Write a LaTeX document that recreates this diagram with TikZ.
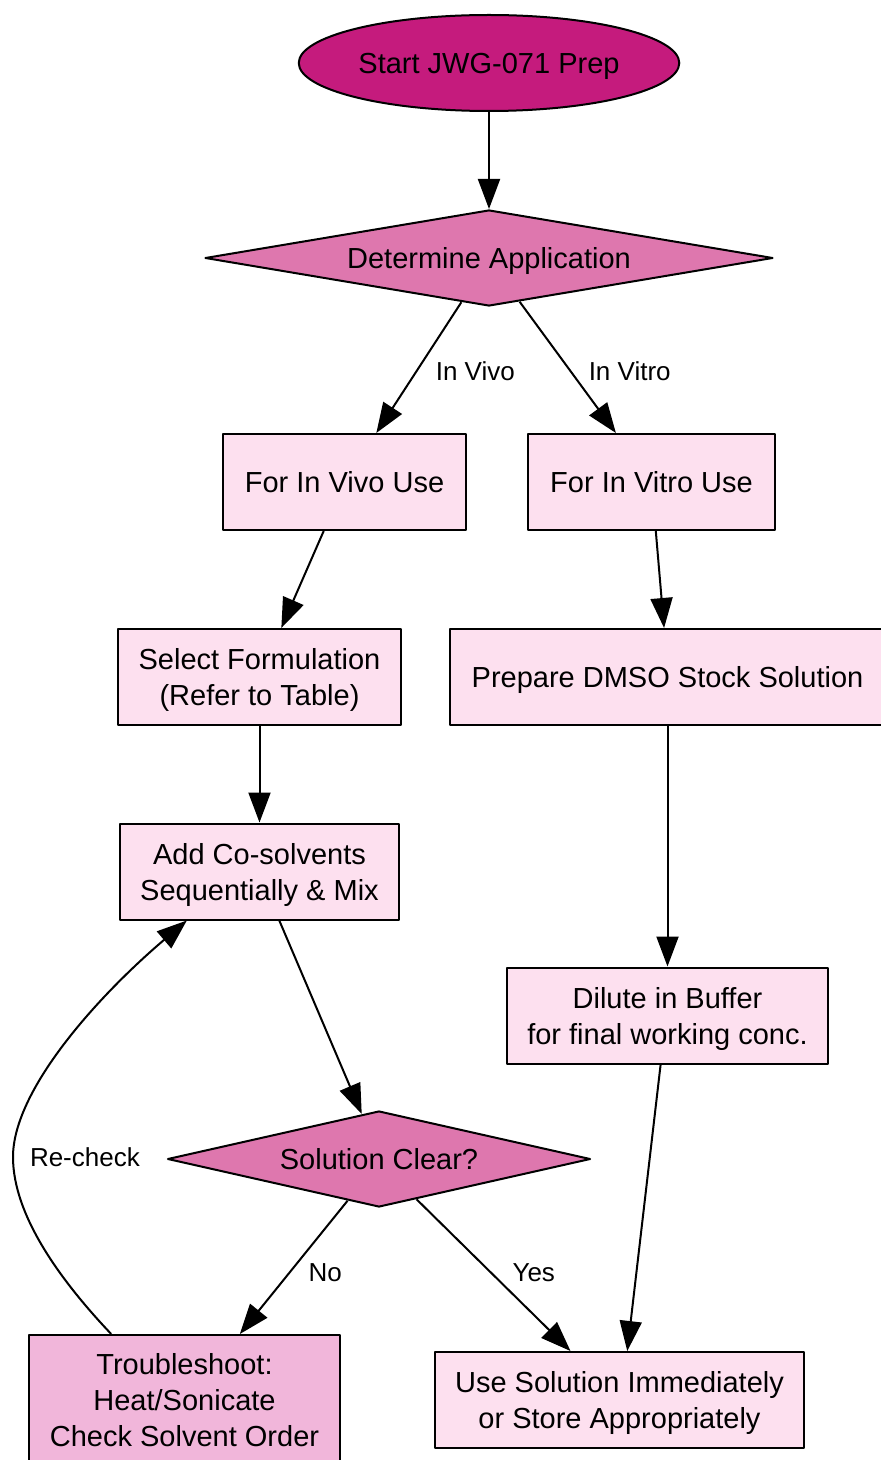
\documentclass[tikz,border=0pt]{standalone}
\usepackage{fontspec}
\setmainfont{Liberation Sans}
\usetikzlibrary{shapes.geometric,arrows.meta}
\definecolor{startc}{HTML}{C51B7D}
\definecolor{decidec}{HTML}{DE77AE}
\definecolor{boxc}{HTML}{FDE0EF}
\definecolor{fixc}{HTML}{F1B6DA}
\tikzset{
	box/.style={draw,fill=boxc,rectangle,minimum height=48pt,align=center,inner sep=2pt,text depth=0pt},
	decide/.style={draw,fill=decidec,diamond,inner sep=0pt,minimum height=48pt,text depth=0pt},
	lbl/.style={font=\fontsize{13}{15}\selectfont,inner sep=2pt},
}
\begin{document}
\begin{tikzpicture}[x=0.5pt,y=-0.5pt,line width=1pt,line join=round,>={Triangle[length=15pt,width=11pt]},font=\fontsize{14.5}{18}\selectfont]
			\useasboundingbox (0,0) rectangle (881,1460);
			\node[draw,fill=startc,ellipse,minimum width=190pt,minimum height=48pt,inner sep=2pt,text depth=0pt] (start) at (489,63) {Start JWG-071 Prep};
			\node[decide,aspect=5.9,minimum width=284pt] (app) at (489,258) {Determine Application};
			\node[box,minimum width=121.5pt] (invivo) at (344.5,482) {For In Vivo Use};
			\node[box,minimum width=123.5pt] (invitro) at (651.5,482) {For In Vitro Use};
			\node[box,minimum width=141.5pt] (formul) at (259.5,677) {Select Formulation\\(Refer to Table)};
			\node[box,minimum width=217.5pt] (dmso) at (667.5,677) {Prepare DMSO Stock Solution};
			\node[box,minimum width=139.5pt] (cosolv) at (259.5,871.5) {Add Co-solvents\\Sequentially \& Mix};
			\node[box,minimum width=160.5pt] (dilute) at (667.5,1015.5) {Dilute in Buffer\\for final working conc.};
			\node[decide,aspect=4.4,minimum width=211.5pt] (clear) at (379,1159) {Solution Clear?};
			\node[box,fill=fixc,minimum width=155.5pt,minimum height=65pt] (fix) at (184.5,1400) {Troubleshoot:\\Heat/Sonicate\\Check Solvent Order};
			\node[box,minimum width=184.5pt] (use) at (619.5,1400) {Use Solution Immediately\\or Store Appropriately};
			\foreach \a/\b in {start.south/app.north,invivo.247/formul.66,invitro.275/dmso.94,formul.south/cosolv.north,dmso.south/dilute.north,cosolv.292/clear.111,dilute.262/use.81}
			{
				\draw[->] (\a) -- (\b);
			}
			\draw[->] (app.238) -- node[lbl,right=6pt,yshift=-2pt] {In Vivo} (invivo.57);
			\draw[->] (app.305) -- node[lbl,right=8pt,yshift=-2pt] {In Vitro} (invitro.126);
			\draw[->] (clear.233) -- node[lbl,right=5pt,yshift=-2.5pt] {No} (fix.50);
			\draw[->] (clear.313) -- node[lbl,right=7pt,yshift=1pt] {Yes} (use.135);
			\draw[->] (fix.138) .. controls (60,1280) and (13,1215) .. (13,1157) node[lbl,right=6pt] {Re-check} .. controls (13,1090) and (98,996) .. (cosolv.214);
		\end{tikzpicture}
\end{document}
